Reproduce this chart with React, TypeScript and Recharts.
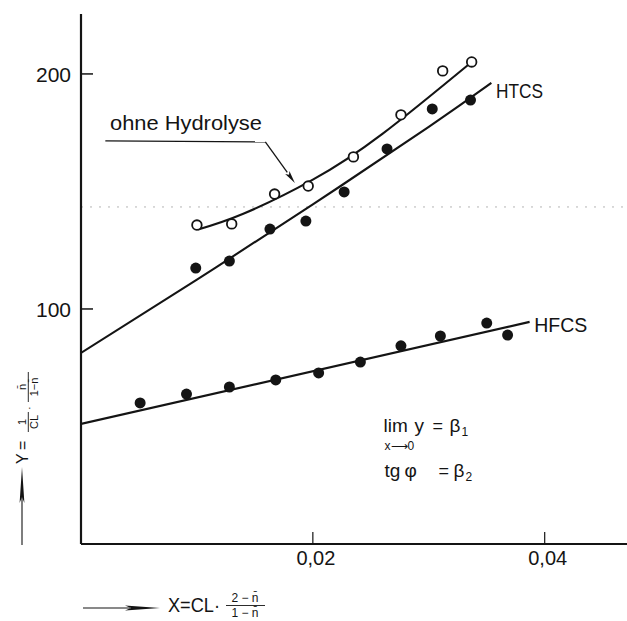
import React from 'react';
import {
  ComposedChart,
  Line,
  Scatter,
  XAxis,
  YAxis,
  ReferenceLine,
  ReferenceDot,
} from 'recharts';

// Measured points: X = CL·(2−n̄)/(1−n̄), Y = 1/CL · n̄/(1−n̄)
const ohneHydrolyseX = [0.01, 0.013, 0.0167, 0.0196, 0.0235, 0.0276, 0.0312, 0.0337];
const ohneHydrolyseY = [135.7, 136.2, 148.9, 152.3, 164.7, 182.6, 201.3, 205.1];

const htcsX = [0.0099, 0.0128, 0.0163, 0.0194, 0.0227, 0.0264, 0.0303, 0.0336];
const htcsY = [117.4, 120.4, 134.0, 137.4, 149.8, 168.1, 185.1, 188.9];

const hfcsX = [0.0051, 0.0091, 0.0128, 0.0168, 0.0205, 0.0241, 0.0276, 0.031, 0.035, 0.0368];
const hfcsY = [60.0, 63.8, 66.8, 69.8, 72.8, 77.4, 84.3, 88.5, 94.0, 88.9];

// Fitted curves
const ohneCurveX = [0.0101, 0.014, 0.02, 0.026, 0.0337];
const ohneCurveY = [133.8, 140.5, 155.0, 174.5, 205.1];

const htcsFitX = [0, 0.01, 0.02, 0.03, 0.0354];
const htcsFitY = [81.3, 112.5, 144.5, 177.5, 196.2];

const hfcsFitX = [0, 0.0387];
const hfcsFitY = [51.1, 94.5];

// Axes
const xDomain = [0, 0.0471];
const yDomain = [0, 225.5];
const xTicks = [0.02, 0.04];
const xTickLabels = ['0,02', '0,04'];
const yTicks = [100, 200];

// Annotation anchors (data units)
const leaderH = [{ x: 0.0021, y: 171.5 }, { x: 0.0159, y: 171.1 }];
const leaderD = [{ x: 0.0159, y: 171.1 }, { x: 0.01845, y: 153.6 }];
const ohneLabelAt = { x: 0.0025, y: 176.2 };
const htcsLabelAt = { x: 0.0358, y: 189.8 };
const hfcsLabelAt = { x: 0.0391, y: 90.2 };
const formulaAt = { x: 0.0261, y: 47.7 };

const zip = (xs: number[], ys: number[]) => xs.map((x, i) => ({ x, y: ys[i] }));

const ohnePoints = zip(ohneHydrolyseX, ohneHydrolyseY);
const htcsPoints = zip(htcsX, htcsY);
const hfcsPoints = zip(hfcsX, hfcsY);
const ohneCurve = zip(ohneCurveX, ohneCurveY);
const htcsFit = zip(htcsFitX, htcsFitY);
const hfcsFit = zip(hfcsFitX, hfcsFitY);

const INK = '#141414';
const FONT = '"Liberation Sans", Arial, sans-serif';

const OpenDot = (p: any) => (
  <circle cx={p.cx} cy={p.cy} r={4.8} fill="#fff" stroke={INK} strokeWidth={1.8} />
);
const FilledDot = (p: any) => <circle cx={p.cx} cy={p.cy} r={5.5} fill={INK} />;

const YTick = (p: any) => {
  const { x, y, payload } = p;
  return (
    <g>
      <line x1={x} y1={y} x2={x + 12} y2={y} stroke={INK} strokeWidth={1.5} />
      <text x={x - 10} y={y + 8} textAnchor="end" fontSize={21} fontFamily={FONT} fill={INK}>
        {payload.value}
      </text>
    </g>
  );
};

const XTick = (p: any) => {
  const { x, y, payload } = p;
  const i = xTicks.indexOf(payload.value);
  return (
    <g>
      <line x1={x} y1={y} x2={x} y2={y - 12} stroke={INK} strokeWidth={1.2} />
      <text x={x + 3} y={y + 21} textAnchor="middle" fontSize={20} fontFamily={FONT} fill={INK}>
        {xTickLabels[i]}
      </text>
    </g>
  );
};

const ArrowSegment = (p: any) => {
  const { x1, y1, x2, y2 } = p;
  const dx = x2 - x1;
  const dy = y2 - y1;
  const len = Math.hypot(dx, dy) || 1;
  const ux = dx / len;
  const uy = dy / len;
  const bx = x2 - ux * 13;
  const by = y2 - uy * 13;
  const w = 2.6;
  return (
    <g>
      <line x1={x1} y1={y1} x2={bx} y2={by} stroke={INK} strokeWidth={1.3} />
      <polygon
        points={`${x2},${y2} ${bx - uy * w},${by + ux * w} ${bx + ux * 3},${by + uy * 3} ${bx + uy * w},${by - ux * w}`}
        fill={INK}
      />
    </g>
  );
};

const TextAt = (content: (cx: number, cy: number) => React.ReactElement) => (p: any) =>
  content(p.cx, p.cy);

const ohneLabel = TextAt((cx, cy) => (
  <text x={cx} y={cy} fontSize={20} fontFamily={FONT} fill={INK} textLength={152} lengthAdjust="spacingAndGlyphs">
    ohne Hydrolyse
  </text>
));

const htcsLabel = TextAt((cx, cy) => (
  <text x={cx} y={cy} fontSize={21} fontFamily={FONT} fill={INK} textLength={47} lengthAdjust="spacingAndGlyphs">
    HTCS
  </text>
));

const hfcsLabel = TextAt((cx, cy) => (
  <text x={cx} y={cy} fontSize={21} fontFamily={FONT} fill={INK} textLength={53} lengthAdjust="spacingAndGlyphs">
    HFCS
  </text>
));

const formula = TextAt((cx, cy) => (
  <g fontFamily={FONT} fill={INK}>
    <text x={cx} y={cy} fontSize={19}>lim</text>
    <text x={cx + 31} y={cy} fontSize={19}>y</text>
    <text x={cx + 49} y={cy} fontSize={18}>=</text>
    <text x={cx + 66} y={cy} fontSize={19}>β</text>
    <text x={cx + 78} y={cy + 4} fontSize={12}>1</text>
    <text x={cx + 1} y={cy + 18} fontSize={12}>x⟶0</text>
    <text x={cx + 1} y={cy + 45} fontSize={19}>tg</text>
    <text x={cx + 21} y={cy + 45} fontSize={19}>φ</text>
    <text x={cx + 55} y={cy + 45} fontSize={18}>=</text>
    <text x={cx + 70} y={cy + 45} fontSize={19}>β</text>
    <text x={cx + 82} y={cy + 49} fontSize={12}>2</text>
  </g>
));

const NBAR = 'n\u0304';

const AxisTitles = () => (
  <svg
    width={627}
    height={621}
    style={{ position: 'absolute', left: 0, top: 0, pointerEvents: 'none' }}
  >
    {/* Y title, reading upward */}
    <line x1={22} y1={545} x2={22} y2={496} stroke={INK} strokeWidth={1.1} />
    <polygon points="22,467 19.6,503 22,497 24.4,503" fill={INK} />
    <g transform="translate(28,464) rotate(-90)" fontFamily={FONT} fill={INK}>
      <text x={0} y={0} fontSize={16}>Y</text>
      <text x={14} y={0} fontSize={16}>=</text>
      <text x={42} y={-1.8} fontSize={11} textAnchor="middle">1</text>
      <line x1={32} y1={0.3} x2={52} y2={0.3} stroke={INK} strokeWidth={0.9} />
      <text x={42} y={9.5} fontSize={11} textAnchor="middle">CL</text>
      <text x={54} y={5} fontSize={11}>·</text>
      <text x={77} y={-1.8} fontSize={11} textAnchor="middle">{NBAR}</text>
      <line x1={62} y1={0.3} x2={92} y2={0.3} stroke={INK} strokeWidth={0.9} />
      <text x={77} y={9.5} fontSize={11} textAnchor="middle">1−{NBAR}</text>
    </g>

    {/* X title */}
    <line x1={83} y1={608} x2={130} y2={608} stroke={INK} strokeWidth={1.1} />
    <polygon points="125,605.6 160,608 125,610.4 131,608" fill={INK} />
    <g fontFamily={FONT} fill={INK}>
      <text x={168} y={612} fontSize={20} textLength={52} lengthAdjust="spacingAndGlyphs">X=CL·</text>
      <text x={245} y={602} fontSize={12} textAnchor="middle">2 − {NBAR}</text>
      <line x1={226} y1={605.5} x2={265} y2={605.5} stroke={INK} strokeWidth={0.9} />
      <text x={245} y={617} fontSize={12} textAnchor="middle">1 − {NBAR}</text>
    </g>
  </svg>
);

export default function App() {
  return (
    <div style={{ position: 'absolute', left: 0, top: 0, width: 627, height: 621, background: '#fff' }}>
      <ComposedChart
        width={627}
        height={621}
        margin={{ top: 14, right: 0, bottom: 47, left: 0 }}
      >
        <XAxis
          xAxisId={0}
          dataKey="x"
          type="number"
          domain={xDomain}
          ticks={xTicks}
          allowDataOverflow
          height={30}
          tickSize={0}
          tickMargin={0}
          tickLine={false}
          axisLine={{ stroke: INK, strokeWidth: 2.2 }}
          tick={<XTick />}
        />
        <XAxis
          xAxisId="top"
          orientation="top"
          type="number"
          domain={xDomain}
          allowDataOverflow
          height={0}
          tick={false}
          tickLine={false}
          axisLine={{ stroke: INK, strokeWidth: 2.2 }}
        />
        <YAxis
          type="number"
          domain={yDomain}
          ticks={yTicks}
          allowDataOverflow
          width={81}
          tickSize={0}
          tickMargin={0}
          tickLine={false}
          axisLine={{ stroke: INK, strokeWidth: 2.2 }}
          tick={<YTick />}
        />

        <ReferenceLine y={143.4} stroke="#b5b5b5" strokeWidth={1} strokeDasharray="2 7" />

        <Line
          data={hfcsFit}
          dataKey="y"
          type="linear"
          stroke={INK}
          strokeWidth={2.1}
          dot={false}
          activeDot={false}
          isAnimationActive={false}
        />
        <Line
          data={htcsFit}
          dataKey="y"
          type="natural"
          stroke={INK}
          strokeWidth={2.1}
          dot={false}
          activeDot={false}
          isAnimationActive={false}
        />
        <Line
          data={ohneCurve}
          dataKey="y"
          type="natural"
          stroke={INK}
          strokeWidth={2.1}
          dot={false}
          activeDot={false}
          isAnimationActive={false}
        />

        <Scatter data={hfcsPoints} dataKey="y" shape={FilledDot} isAnimationActive={false} />
        <Scatter data={htcsPoints} dataKey="y" shape={FilledDot} isAnimationActive={false} />
        <Scatter data={ohnePoints} dataKey="y" shape={OpenDot} isAnimationActive={false} />

        <ReferenceLine segment={leaderH} stroke={INK} strokeWidth={1.3} />
        <ReferenceLine segment={leaderD} shape={ArrowSegment} />

        <ReferenceDot x={ohneLabelAt.x} y={ohneLabelAt.y} shape={ohneLabel} />
        <ReferenceDot x={htcsLabelAt.x} y={htcsLabelAt.y} shape={htcsLabel} />
        <ReferenceDot x={hfcsLabelAt.x} y={hfcsLabelAt.y} shape={hfcsLabel} />
        <ReferenceDot x={formulaAt.x} y={formulaAt.y} shape={formula} />
      </ComposedChart>
      <AxisTitles />
    </div>
  );
}
